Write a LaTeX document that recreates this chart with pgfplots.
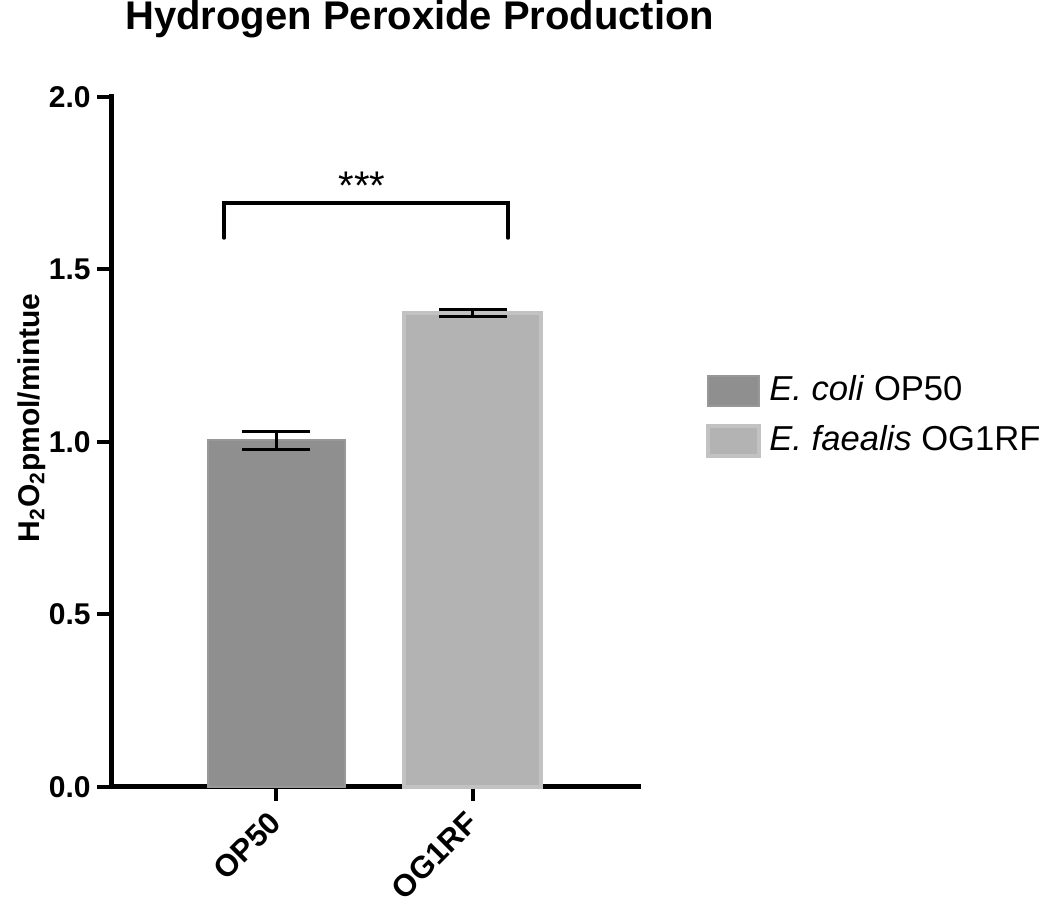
\documentclass[border=0pt]{standalone}
\usepackage{fontspec}
\setmainfont{Liberation Sans}
\usepackage{pgfplots}
\pgfplotsset{compat=1.18}
\definecolor{barA}{HTML}{8F8F8F}
\definecolor{barAedge}{HTML}{989898}
\definecolor{barB}{HTML}{B3B3B3}
\definecolor{barBedge}{HTML}{C2C2C2}
\begin{document}
\begin{tikzpicture}
\useasboundingbox (0,0) rectangle (525pt,451.5pt);
\begin{axis}[
  at={(55.5pt,58pt)}, anchor=south west,
  scale only axis, width=263.5pt, height=345pt,
  xmin=-0.838, xmax=1.838, ymin=0, ymax=2,
  axis x line*=bottom, axis y line*=left,
  axis line style={line width=2.5pt, line cap=rect},
  ytick={0,0.5,1,1.5,2},
  xtick={0,1}, xticklabels={OP50,OG1RF},
  tick align=outside, major tick length=7pt,
  tick style={line width=2pt, black},
  /pgf/number format/assume math mode=true,
  /pgf/number format/.cd, fixed, fixed zerofill, precision=1, /pgfplots/.cd,
  ticklabel style={font=\fontsize{15}{18}\selectfont\bfseries},
  xticklabel shift=8pt,
  xticklabel style={rotate=45, anchor=east, inner sep=2pt, font=\fontsize{15.5}{18}\selectfont\bfseries, xshift=1.5pt},
  yticklabel style={inner sep=3pt},
  ybar, bar width=68.5pt,
  title={Hydrogen Peroxide Production},
  title style={font=\fontsize{20}{24}\selectfont\bfseries, at={(axis description cs:0.586,1.080)}, anchor=base},
  ylabel={H\textsubscript{2}O\textsubscript{2}pmol/mintue},
  ylabel style={font=\fontsize{15}{18}\selectfont\bfseries, at={(axis description cs:-0.150,0.535)}, anchor=center, rotate=0},
  legend style={at={(axis description cs:1.129,0.537)}, anchor=west, draw=none, fill=none,
    inner sep=0pt, row sep=5pt,
    nodes={font=\fontsize{17.3}{20}\selectfont, inner sep=2pt, text height=12.5pt, text depth=3.5pt, anchor=west}},
  legend image code/.code={\fill[#1] (0pt,-7.5pt) rectangle (25.5pt,7.5pt); \path (27.5pt,0pt);},
  legend cell align=left,
  clip=false,
]
\addplot+[bar shift=0pt, fill=barA, draw=barAedge, line width=1pt,
  error bars/.cd, y dir=both, y explicit,
  error bar style={line width=1.5pt, black},
  error mark options={rotate=90, line width=1.5pt, black, mark size=17pt}]
  coordinates {(0,1.005) +- (0,0.026)};
\addlegendentry{\textit{E. coli} OP50}
\addplot+[bar shift=0pt, fill=barB, draw=barBedge, line width=2pt,
  error bars/.cd, y dir=both, y explicit,
  error bar style={line width=1.5pt, black},
  error mark options={rotate=90, line width=1.5pt, black, mark size=17pt}]
  coordinates {(1,1.374) +- (0,0.011)};
\addlegendentry{\textit{E. faealis} OG1RF}
\draw[line width=1.6pt, line cap=round, line join=miter]
  (axis cs:-0.264,1.591) -- (axis cs:-0.264,1.693) -- (axis cs:1.178,1.693) -- (axis cs:1.178,1.591);
\node[font=\fontsize{20}{24}\selectfont, anchor=center] at (axis cs:0.437,1.742) {***};
\end{axis}
\end{tikzpicture}
\end{document}
